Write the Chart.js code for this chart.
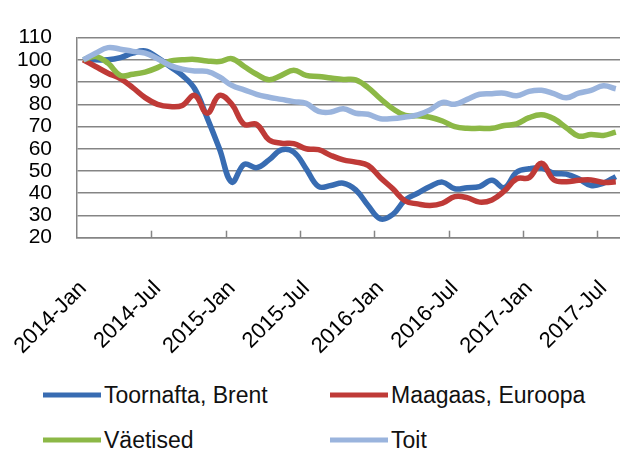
<!DOCTYPE html>
<html>
<head>
<meta charset="utf-8">
<script src="https://cdn.jsdelivr.net/npm/chart.js@4.4.1/dist/chart.umd.min.js"></script>
<style>
  html, body { margin: 0; padding: 0; background: #fff; overflow: hidden; }
  #wrap { position: relative; width: 620px; height: 454px; overflow: hidden; }
  #chart-box { position: absolute; left: 0; top: 0; width: 622px; height: 365px; }
  .legend-item {
    position: absolute;
    display: flex;
    align-items: center;
    font-family: "Liberation Sans", Arial, sans-serif;
    font-size: 23px;
    color: #111;
    white-space: nowrap;
    transform: translateY(-50%);
  }
  .legend-item span.swatch { display: inline-block; width: 58px; height: 5px; margin-right: 3px; }
</style>
</head>
<body>
<div id="wrap">
  <div id="chart-box"><canvas id="price-chart"></canvas></div>
  <div id="legend"></div>
</div>
<script>
// Data (index 2014-Jan = 100), monthly 2014-Jan .. 2017-Aug
const years = [2014, 2015, 2016, 2017]
const monthNames = ["Jan", "Feb", "Mar", "Apr", "May", "Jun", "Jul", "Aug", "Sep", "Oct", "Nov", "Dec"]
const seriesNames = ["Toornafta, Brent", "Maagaas, Euroopa", "Väetised", "Toit"]
const seriesColors = ["#386cb2", "#bf3a37", "#8cb846", "#9ab4dd"]

const toornafta = [100, 100, 100, 101, 103, 104, 101, 97, 93, 87, 74, 60,
  45, 53, 51.5, 55, 59.5, 58.5, 51, 43, 43.5, 44.5, 41.5, 34.5,
  28.5, 30.5, 37, 40, 43, 45, 42, 42.5, 43, 45.8, 42.5, 49.5,
  51, 51.3, 49, 48.6, 46.5, 43.5, 44.5, 47.5]
const maagaas = [100, 97, 94, 91.5, 87.5, 83, 80, 79, 79.5, 84, 76, 84,
  80, 71, 71, 64, 62.5, 62.3, 60, 59.6, 57, 55, 54, 52.5,
  47, 42, 36.5, 35.2, 34.5, 35.5, 38.5, 38, 36, 37, 41, 46.5,
  47, 53.5, 46, 45.2, 45.8, 46, 44.8, 45.2]
const vaetised = [100, 101.5, 98.5, 93, 93.5, 94.5, 96.5, 99.4, 100, 100.2, 99.5, 99.2,
  100.5, 97, 93.5, 91, 93, 95.3, 93, 92.5, 91.8, 91.2, 91, 87.5,
  82.5, 78, 75, 74.8, 74.2, 72.5, 70, 69.2, 69.2, 69.2, 70.5, 71.2,
  74, 75.3, 73.5, 69.5, 65.7, 66.4, 66, 67.5]
const toit = [100, 103, 105.5, 104.8, 103.8, 103, 100.5, 97.5, 95.8, 95, 94.8, 92.3,
  88.5, 86.5, 84.5, 83.2, 82.2, 81.2, 80.4, 76.8, 76.5, 78, 76, 75.5,
  73.5, 73.6, 74.3, 75.2, 77.5, 80.8, 80, 82.2, 84.5, 84.8, 85, 83.8,
  85.8, 86.3, 84.8, 82.9, 85, 86.3, 88.3, 87]

const yTicks = { min: 20, max: 110, step: 10 }

const labels = []
years.forEach((y) => monthNames.forEach((m) => labels.push(y + "-" + m)))
const categories = labels.slice(0, toornafta.length)

const gridColor = "#858585"

Chart.defaults.font.family = "'Liberation Sans', Arial, sans-serif"
Chart.defaults.color = "#000"

// short tick marks inside the plot, every 6 months
const innerTicks = {
  id: "innerTicks",
  beforeDatasetsDraw(chart) {
    const x = chart.scales.x
    const { ctx, chartArea } = chart
    ctx.save()
    ctx.strokeStyle = gridColor
    ctx.lineWidth = 1.5
    for (let i = 6; i < categories.length; i += 6) {
      const px = Math.round((x.getPixelForValue(i - 1) + x.getPixelForValue(i)) / 2) + 0.5
      ctx.beginPath()
      ctx.moveTo(px, chartArea.bottom)
      ctx.lineTo(px, chartArea.bottom - 7)
      ctx.stroke()
    }
    ctx.restore()
  },
}

const allSeries = [toornafta, maagaas, vaetised, toit]

const chart = new Chart(document.getElementById("price-chart"), {
  type: "line",
  data: {
    labels: categories,
    datasets: allSeries.map((values, i) => ({
      label: seriesNames[i],
      data: values,
      borderColor: seriesColors[i],
      backgroundColor: seriesColors[i],
      borderWidth: 5.5,
      tension: 0.4,
      pointRadius: 0,
      fill: false,
      order: allSeries.length - i,
    })),
  },
  options: {
    responsive: true,
    maintainAspectRatio: false,
    animation: false,
    layout: { padding: { top: 19, left: 0, right: 0, bottom: 0 } },
    plugins: {
      legend: { display: false },
      tooltip: { enabled: false },
    },
    scales: {
      x: {
        type: "category",
        offset: true,
        grid: { display: false },
        border: { display: true, color: gridColor, width: 1.5 },
        ticks: {
          autoSkip: false,
          minRotation: 45,
          maxRotation: 45,
          padding: 30,
          font: { size: 22 },
          callback: function (val, i) {
            return i % 6 === 0 ? this.getLabelForValue(val) : ""
          },
        },
        afterFit: (s) => {
          s.height = 365 - 237.7
          s.paddingLeft = 0
          s.paddingRight = 0
        },
      },
      y: {
        min: yTicks.min,
        max: yTicks.max,
        grid: { color: gridColor, lineWidth: 1.5, drawTicks: false },
        border: { display: true, color: gridColor, width: 1.5 },
        ticks: { stepSize: yTicks.step, autoSkip: false, padding: 25, font: { size: 21 } },
        afterFit: (s) => {
          s.width = 77
        },
      },
    },
  },
  plugins: [innerTicks],
})

// Legend in two columns, built from the chart's datasets
const legendSpots = [
  { left: 43, top: 395 },
  { left: 330, top: 395 },
  { left: 43, top: 440 },
  { left: 330, top: 440 },
]
const legend = document.getElementById("legend")
chart.data.datasets.forEach((ds, i) => {
  const item = document.createElement("div")
  item.className = "legend-item"
  item.style.left = legendSpots[i].left + "px"
  item.style.top = legendSpots[i].top + "px"
  const sw = document.createElement("span")
  sw.className = "swatch"
  sw.style.background = ds.borderColor
  const txt = document.createElement("span")
  txt.textContent = ds.label
  item.appendChild(sw)
  item.appendChild(txt)
  legend.appendChild(item)
})
</script>
</body>
</html>
